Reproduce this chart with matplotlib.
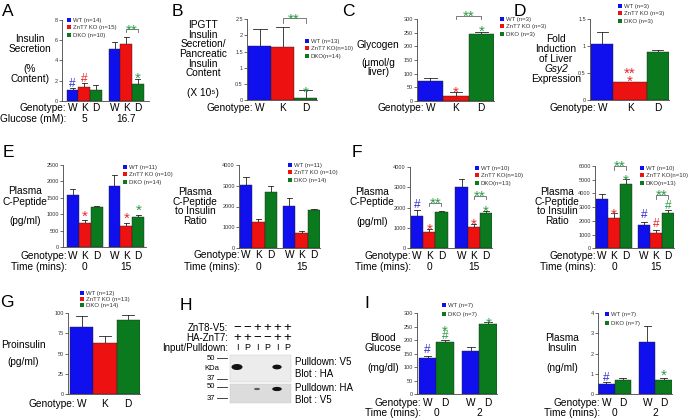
import matplotlib.pyplot as plt
import numpy as np
from matplotlib.patches import Patch, Ellipse, Rectangle
from matplotlib.transforms import blended_transform_factory

plt.rcParams['font.family'] = ['Liberation Sans', 'DejaVu Sans']

# ---- data ----
A_vals = [1.1, 1.35, 1.05, 5.1, 5.6, 1.7]
A_errs = [0.15, 0.37, 0.52, 0.68, 0.75, 0.5]
B_vals = [1.68, 1.63, 0.06]
B_errs = [0.52, 0.62, 0.24]
C_vals = [72, 18, 245]
C_errs = [10, 14, 10]
D_vals = [1.05, 0.33, 0.9]
D_errs = [0.21, 0.0, 0.03]
E1_vals = [1580, 730, 1210, 1860, 660, 920]
E1_errs = [180, 100, 50, 340, 90, 50]
E2_vals = [3020, 1230, 2720, 2030, 730, 1830]
E2_errs = [400, 160, 280, 390, 70, 40]
F1_vals = [1600, 800, 1780, 3020, 1030, 1750]
F1_errs = [260, 170, 40, 380, 150, 60]
F2_vals = [3580, 2200, 4700, 1700, 1140, 2570]
F2_errs = [350, 380, 350, 230, 180, 200]
G_vals = [83, 63, 91.5]
G_errs = [13.5, 8.5, 5.5]
I1_vals = [134, 193, 162, 259]
I1_errs = [9, 8, 13, 10]
I2_vals = [0.5, 0.71, 2.58, 0.71]
I2_errs = [0.11, 0.11, 0.78, 0.11]

WKD = ['W', 'K', 'D']
WD = ['W', 'D']

# western blot (panel H)
znt8_v5 = ['\u2212', '\u2212', '+', '+', '+', '+']
ha_znt7 = ['+', '+', '\u2212', '\u2212', '+', '+']
in_pull = ['I', 'P', 'I', 'P', 'I', 'P']
blot_ha = [1.0, 0, 0, 0, 0.75, 0]
blot_v5 = [0, 0, 0.3, 0, 0.8, 0]

BLUE, RED, GREEN = '#1010ee', '#ee1111', '#0b7a1e'
BT, RT, GT = '#3030d0', '#e82828', '#2a9a45'

W, H = 688, 420
fig = plt.figure(figsize=(W / 100, H / 100), dpi=100)


def fx(x):
    return x / W


def fy(y):
    return 1 - y / H


def ftext(x, y, s, **kw):
    kw.setdefault('fontsize', 7.3)
    fig.text(fx(x), fy(y), s, **kw)


def ylab(x, y0, dy, lines, italic=()):
    for i, s in enumerate(lines):
        if s:
            ftext(x, y0 + i * dy, s, ha='center', va='center',
                  style='italic' if i in italic else 'normal')


def panel(box, vals, errs, cols, ngroups, gap, pad_l, pad_r, ylim, yticks,
          ytl=None, widths=None, cap=0.22):
    l, t, r, b = box
    ax = fig.add_axes([fx(l), fy(b), (r - l) / W, (b - t) / H])
    if widths is None:
        widths = [1] * len(cols)
    lefts, ws, cs = [], [], []
    cur = pad_l
    for g in range(ngroups):
        for w, c in zip(widths, cols):
            lefts.append(cur)
            ws.append(w)
            cs.append(c)
            cur += w
        cur += gap
    cur -= gap
    ax.set_xlim(0, cur + pad_r)
    ax.set_ylim(*ylim)
    centers = [a + w / 2 for a, w in zip(lefts, ws)]
    ax.bar(lefts, vals, width=ws, align='edge', color=cs,
           edgecolor='#202020', linewidth=0.3, zorder=2)
    tops = np.array(vals) + np.array(errs)
    for c, v, tp, e in zip(centers, vals, tops, errs):
        if e > 0:
            ax.plot([c, c], [v, tp], color='#222222', lw=0.6, zorder=1)
            ax.plot([c - cap, c + cap], [tp, tp], color='#222222', lw=0.6,
                    zorder=1)
    for s in ['top', 'right']:
        ax.spines[s].set_visible(False)
    for s in ['left', 'bottom']:
        ax.spines[s].set_linewidth(0.6)
        ax.spines[s].set_color('#444444')
    ax.set_xticks([])
    ax.set_yticks(yticks)
    if ytl is not None:
        ax.set_yticklabels(ytl)
    ax.tick_params(axis='y', labelsize=4, length=2, width=0.5, pad=1,
                   colors='#333333')
    ax.patch.set_alpha(0)
    ax._centers = centers
    ax._box = box
    ax._ngroups = ngroups
    return ax


def rows(ax, y1, letters, name2=None, y2=None, glabels=None):
    trans = blended_transform_factory(ax.transData, fig.transFigure)
    c = ax._centers
    l, t, r, b = ax._box
    xr = l + c[0] / ax.get_xlim()[1] * (r - l) - 6
    ftext(xr, y1, 'Genotype:', ha='right', va='center')
    for x, s in zip(c, letters * ax._ngroups):
        ax.text(x, fy(y1), s, transform=trans, ha='center', va='center',
                fontsize=7.3)
    if name2:
        ftext(xr, y2, name2, ha='right', va='center')
        n = len(letters)
        for g, s in enumerate(glabels):
            gx = np.mean(c[g * n:(g + 1) * n])
            ax.text(gx, fy(y2), s, transform=trans, ha='center', va='center',
                    fontsize=7.3)


def legend(ax, x, y, labels, cols, spacing=0.35):
    hs = [Patch(facecolor=c, edgecolor='none', label=s)
          for s, c in zip(labels, cols)]
    lg = ax.legend(handles=hs, loc='upper left', bbox_to_anchor=(fx(x), fy(y)),
                   bbox_transform=fig.transFigure, fontsize=4.3, frameon=False,
                   handlelength=0.7, handleheight=0.7, handletextpad=0.3,
                   labelspacing=spacing, borderpad=0, borderaxespad=0)
    for tx in lg.get_texts():
        tx.set_color('#333333')


def mark(ax, i, y, s, color):
    star = '*' in s
    ax.annotate(s, (ax._centers[i], y), xytext=(0, -3.8 if star else -0.7),
                textcoords='offset points', ha='center', va='center',
                fontsize=11 if star else 8.5, color=color,
                annotation_clip=False, zorder=5)


def bracket(ax, i, j, y, leg, ytext):
    ci, cj = ax._centers[i], ax._centers[j]
    ax.plot([ci, ci, cj, cj], [y - leg, y, y, y - leg], color='#666666',
            lw=0.6, clip_on=False)
    ax.annotate('**', ((ci + cj) / 2, ytext), xytext=(0, -3.8),
                textcoords='offset points', ha='center', va='center',
                fontsize=11, color=GT, annotation_clip=False)


def letter(x, y, s):
    ftext(x, y, s, fontsize=12.5, ha='left', va='top')


C3 = [BLUE, RED, GREEN]
C2 = [BLUE, GREEN]

# ---- A ----
ax = panel((62, 20, 149, 100.7), A_vals, A_errs, C3, 2, 0.6, 0.4, 0.45,
           (0, 8), [0, 2, 4, 6, 8])
rows(ax, 108, WKD, 'Glucose (mM):', 119, ['5', '16.7'])
legend(ax, 67, 18, ['WT (n=14)', 'ZnT7 KO (n=15)', 'DKO (n=10)'], C3)
mark(ax, 0, 1.72, '#', BT)
mark(ax, 1, 2.28, '#', RT)
mark(ax, 5, 2.65, '*', GT)
bracket(ax, 4, 5, 7.07, 0.3, 7.5)
ylab(30, 39, 10, ['Insulin', 'Secretion', '', '(%', 'Content)'])
letter(2, 4, 'A')

# ---- B ----
ax = panel((247, 19.3, 317, 100), B_vals, B_errs, C3, 1, 0, 0.05, 0.0,
           (0, 2.5), [0, 0.5, 1, 1.5, 2, 2.5],
           ['0', '0.5', '1', '1.5', '2', '2.5'], cap=0.3)
rows(ax, 108, WKD)
legend(ax, 305, 39, ['WT (n=13)', 'ZnT7 KO(n=10)', 'DKO(n=14)'], C3)
mark(ax, 2, 0.39, '*', GT)
bracket(ax, 1, 2, 2.53, 0.13, 2.66)
ylab(203, 25, 9.7, ['IPGTT', 'Insulin', 'Secretion/', 'Pancreatic',
                    'Insulin', 'Content', '', '(X 10\u2075)'])
letter(172, 4, 'B')

# ---- C ----
ax = panel((417, 19.3, 494, 100.7), C_vals, C_errs, C3, 1, 0, 0.03, 0.0,
           (0, 300), [0, 50, 100, 150, 200, 250, 300], cap=0.25)
rows(ax, 108, WKD)
legend(ax, 500, 17, ['WT (n=3)', 'ZnT7 KO (n=3)', 'DKO (n=3)'], C3)
mark(ax, 1, 49, '*', RT)
mark(ax, 2, 273, '*', GT)
bracket(ax, 1, 2, 314, 14, 328)
ylab(378, 45, 9, ['Glycogen', '', '(\u03bcmol/g', 'liver)'])
letter(342, 4, 'C')

# ---- D ----
ax = panel((590, 19.3, 669, 100), D_vals, D_errs, C3, 1, 0, 0.05, 0.0,
           (0, 1.5), [0, 0.5, 1, 1.5], ['0', '0.5', '1', '1.5'],
           widths=[1, 1.5, 1], cap=0.25)
rows(ax, 108, WKD)
legend(ax, 618, 4, ['WT (n=3)', 'ZnT7 KO (n=3)', 'DKO (n=3)'], C3)
mark(ax, 1, 0.58, '**', RT)
mark(ax, 1, 0.44, '*', RT)
ylab(556, 39.5, 9.8, ['Fold', 'Induction', 'of Liver', 'Gsy2', 'Expression'],
     italic=(3,))
letter(514, 4, 'D')

# ---- E left ----
ax = panel((63, 165, 146, 247.3), E1_vals, E1_errs, C3, 2, 0.5, 0.33, 0.15,
           (0, 2500), [0, 500, 1000, 1500, 2000, 2500])
rows(ax, 256, WKD, 'Time (mins):', 267, ['0', '15'])
legend(ax, 123, 165, ['WT (n=11)', 'ZnT7 KO (n=10)', 'DKO (n=14)'], C3)
mark(ax, 1, 1100, '*', RT)
mark(ax, 4, 1030, '*', RT)
mark(ax, 5, 1265, '*', GT)
ylab(25, 191.5, 10, ['Plasma', 'C-Peptide', '', '(pg/ml)'])
letter(3, 145, 'E')

# ---- E right ----
ax = panel((239, 165, 320, 248), E2_vals, E2_errs, C3, 2, 0.5, 0.08, 0.0,
           (0, 4000), [0, 1000, 2000, 3000, 4000])
rows(ax, 255, WKD, 'Time (mins):', 267, ['0', '15'])
legend(ax, 288, 163, ['WT (n=11)', 'ZnT7 KO (n=10)', 'DKO (n=14)'], C3)
ylab(195, 192, 9.5, ['Plasma', 'C-Peptide', 'to Insulin', 'Ratio'])

# ---- F left ----
ax = panel((410, 166.7, 492, 248.3), F1_vals, F1_errs, C3, 2, 0.65, 0.08, 0.0,
           (0, 4000), [0, 1000, 2000, 3000, 4000])
rows(ax, 256, WKD, 'Time (mins):', 267, ['0', '15'])
legend(ax, 475, 166, ['WT (n=10)', 'ZnT7 KO(n=10)', 'DKO(n=13)'], C3)
mark(ax, 0, 2170, '#', BT)
mark(ax, 1, 1190, '*', RT)
bracket(ax, 1, 2, 2200, 150, 2450)
mark(ax, 4, 1420, '*', RT)
mark(ax, 5, 2070, '*', GT)
bracket(ax, 4, 5, 2560, 160, 2770)
ylab(372, 192, 10, ['Plasma', 'C-Peptide', '', '(pg/ml)'])
letter(352, 145, 'F')

# ---- F right ----
ax = panel((595, 166, 674, 248.3), F2_vals, F2_errs, C3, 2, 0.5, 0.08, 0.0,
           (0, 6000), [0, 1000, 2000, 3000, 4000, 5000, 6000])
rows(ax, 256, WKD, 'Time (mins):', 267, ['0', '15'])
legend(ax, 640, 166, ['WT (n=10)', 'ZnT7 KO(n=10)', 'DKO(n=13)'], C3)
bracket(ax, 1, 2, 6000, 300, 6310)
mark(ax, 2, 5340, '*', GT)
mark(ax, 1, 2840, '*', RT)
mark(ax, 3, 2500, '#', BT)
mark(ax, 4, 1820, '#', RT)
mark(ax, 5, 3150, '#', GT)
bracket(ax, 4, 5, 3880, 280, 4200)
ylab(557, 192, 9.5, ['Plasma', 'C-Peptide', 'to Insulin', 'Ratio'])

# ---- G ----
ax = panel((68, 313, 140, 394), G_vals, G_errs, C3, 1, 0, 0.08, 0.0,
           (0, 100), [0, 25, 50, 75, 100], cap=0.25)
rows(ax, 404, WKD)
legend(ax, 80, 291, ['WT (n=12)', 'ZnT7 KO (n=13)', 'DKO (n=14)'], C3,
       spacing=0.15)
ylab(23, 345, 8.5, ['Proinsulin', '', '(pg/ml)'])
letter(0, 295, 'G')

# ---- H (blot) ----
bax = fig.add_axes([fx(150), fy(410), 190 / W, 120 / H])
bax.set_xlim(150, 340)
bax.set_ylim(410, 290)
bax.axis('off')
lane_x = 237 + 10 * np.arange(len(in_pull))
bax.add_patch(Rectangle((230, 355), 61, 27, fc='#ececec', ec='#c8c8c8', lw=0.3))
bax.add_patch(Rectangle((230, 384), 61, 19, fc='#dcdcdc', ec='#c8c8c8', lw=0.3))
for x, v in zip(lane_x, blot_ha):
    if v > 0:
        bax.add_patch(Ellipse((x, 367), 4 + 7 * v, 1 + 5 * v, fc='#111111',
                              ec='none', alpha=min(1, 0.4 + 0.8 * v)))
for x, v in zip(lane_x, blot_v5):
    if v > 0:
        bax.add_patch(Ellipse((x, 389), 4 + 7 * v, 1 + 4 * v, fc='#111111',
                              ec='none', alpha=min(1, 0.4 + 0.8 * v)))
for x, a, b, c in zip(lane_x, znt8_v5, ha_znt7, in_pull):
    bax.text(x, 328, a, ha='center', va='center', fontsize=9.5)
    bax.text(x, 338, b, ha='center', va='center', fontsize=9.5)
    bax.text(x, 348, c, ha='center', va='center', fontsize=6.5)
ftext(228, 328, 'ZnT8-V5:', ha='right', va='center', fontsize=7)
ftext(228, 338, 'HA-ZnT7:', ha='right', va='center', fontsize=7)
ftext(228, 348, 'Input/Pulldown:', ha='right', va='center', fontsize=7)
for y, s in [(358, '50'), (379, '37'), (387, '50'), (398, '37')]:
    bax.text(215, y, s, ha='right', va='center', fontsize=5.5)
    bax.plot([217, 227], [y, y], color='#222222', lw=0.6)
bax.text(212, 368, 'KDa', ha='center', va='center', fontsize=5.5)
ftext(295, 362, 'Pulldown: V5', ha='left', va='center', fontsize=7)
ftext(295, 374, 'Blot : HA', ha='left', va='center', fontsize=7)
ftext(295, 388, 'Pulldown: HA', ha='left', va='center', fontsize=7)
ftext(295, 400, 'Blot : V5', ha='left', va='center', fontsize=7)
letter(180, 298, 'H')

# ---- I left ----
ax = panel((417, 313.3, 497, 394.3), I1_vals, I1_errs, C2, 2, 0.46, 0.1, 0.0,
           (0, 300), [0, 50, 100, 150, 200, 250, 300])
rows(ax, 403, WD, 'Time (mins):', 413, ['0', '2'])
legend(ax, 442, 303, ['WT (n=7)', 'DKO (n=7)'], C2, spacing=0.6)
mark(ax, 0, 167, '#', BT)
mark(ax, 1, 218, '#', GT)
mark(ax, 1, 252, '*', GT)
mark(ax, 3, 281, '*', GT)
ylab(383, 338, 10, ['Blood', 'Glucose', '', '(mg/dl)'])
letter(364, 296, 'I')

# ---- I right ----
ax = panel((598, 312.7, 672, 394.3), I2_vals, I2_errs, C2, 2, 0.48, 0.0, 0.0,
           (0, 4), [0, 1, 2, 3, 4])
rows(ax, 403, WD, 'Time (mins):', 413, ['0', '2'])
legend(ax, 605, 312, ['WT (n=7)', 'DKO (n=7)'], C2, spacing=0.6)
mark(ax, 0, 0.86, '#', BT)
mark(ax, 3, 1.19, '*', GT)
ylab(562, 338, 10, ['Plasma', 'Insulin', '', '(ng/ml)'])

fig.savefig('out.png', dpi=100)
